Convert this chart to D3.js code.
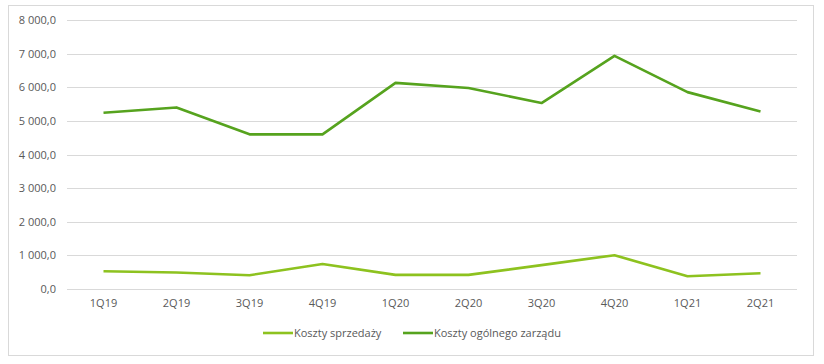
<!DOCTYPE html>
<html><head><meta charset="utf-8">
<script src="https://cdn.jsdelivr.net/npm/d3@7"></script>
<style>body{margin:0;background:#fff;}svg text{font-family:"Open Sans","Liberation Sans",sans-serif;}</style>
</head><body>
<svg id="c" width="824" height="364"></svg>
<script>
const categories = ["1Q19","2Q19","3Q19","4Q19","1Q20","2Q20","3Q20","4Q20","1Q21","2Q21"];
const kosztySprzedazy = [530, 490, 410, 745, 420, 420, 710, 1005, 380, 470];
const kosztyZarzadu = [5240, 5400, 4600, 4600, 6130, 5980, 5530, 6935, 5855, 5280];
const yTicks = [0,1000,2000,3000,4000,5000,6000,7000,8000];
const seriesNames = ["Koszty sprzedaży","Koszty ogólnego zarządu"];
const colors = ["#8dc21f","#56a31e"];

const svg = d3.select("#c");
svg.append("rect").attr("x",8.5).attr("y",5.5).attr("width",805).attr("height",350)
  .attr("fill","#fff").attr("stroke","#d9d9d9");

const x = d3.scaleBand().domain(categories).range([67,797]);
const y = d3.scaleLinear().domain([0,8000]).range([289,20]);
const fmt = v => d3.format(",.1f")(v).replace(/,/g," ").replace(".",",");

const g = svg.append("g");
g.selectAll("line.grid").data(yTicks).join("line").attr("class","grid")
  .attr("x1",67).attr("x2",797).attr("y1",d=>Math.round(y(d))+0.5).attr("y2",d=>Math.round(y(d))+0.5)
  .attr("stroke","#d9d9d9").attr("stroke-width",1);
g.selectAll("text.yl").data(yTicks).join("text").attr("class","yl")
  .attr("x",56).attr("y",d=>y(d)+4).attr("text-anchor","end")
  .attr("font-size",11).attr("fill","#595959").text(fmt);
g.selectAll("text.xl").data(categories).join("text").attr("class","xl")
  .attr("x",d=>x(d)+x.bandwidth()/2).attr("y",307).attr("text-anchor","middle")
  .attr("font-size",11).attr("fill","#595959").text(d=>d);

const line = d3.line().x((d,i)=>x(categories[i])+x.bandwidth()/2).y(d=>y(d));
[kosztySprzedazy,kosztyZarzadu].forEach((s,i)=>{
  svg.append("path").datum(s).attr("d",line).attr("fill","none")
    .attr("stroke",colors[i]).attr("stroke-width",2.6).attr("stroke-linejoin","round");
});

const leg = [{x:263},{x:403}];
seriesNames.forEach((n,i)=>{
  svg.append("line").attr("x1",leg[i].x).attr("x2",leg[i].x+30).attr("y1",333).attr("y2",333)
    .attr("stroke",colors[i]).attr("stroke-width",2.6);
  svg.append("text").attr("x",leg[i].x+31).attr("y",337).attr("font-size",11)
    .attr("fill","#595959").text(n);
});
</script>
</body></html>
